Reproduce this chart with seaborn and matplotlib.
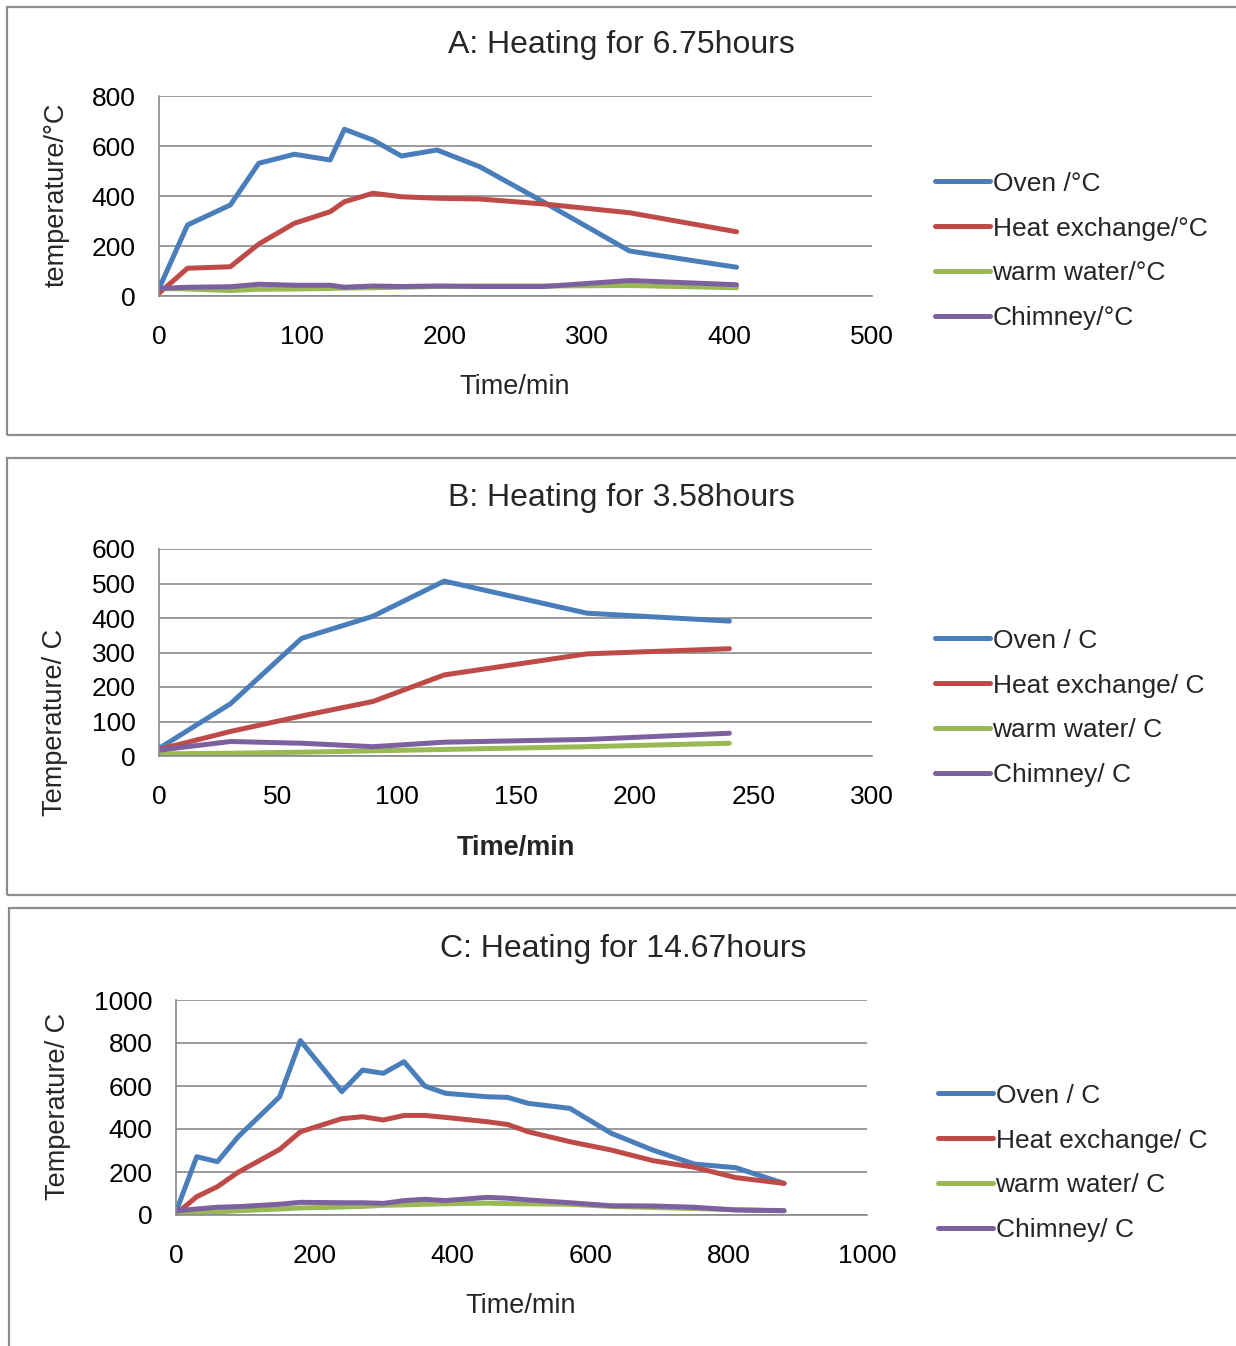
import numpy as np
import pandas as pd
import matplotlib
matplotlib.use("Agg")
import matplotlib.pyplot as plt
import seaborn as sns
from matplotlib.patches import Rectangle

# ── Data ───────────────────────────────────────────────────
series_a = ["Oven /°C", "Heat exchange/°C", "warm water/°C", "Chimney/°C"]
time_a = [0, 20, 50, 70, 95, 120, 130, 150, 170, 195, 225, 270, 330, 405]
oven_a = [30, 284, 364, 531, 567, 544, 667, 624, 560, 584, 517, 375, 180, 115]
heat_a = [11, 111, 117, 208, 291, 337, 377, 411, 397, 391, 388, 368, 333, 257]
water_a = [30, 28, 22, 27, 28, 30, 32, 33, 35, 38, 40, 40, 42, 33]
chimney_a = [30, 35, 37, 47, 43, 43, 35, 40, 38, 40, 38, 38, 62, 45]

series_b = ["Oven / C", "Heat exchange/ C", "warm water/ C", "Chimney/ C"]
time_b = [0, 30, 60, 90, 120, 180, 240]
oven_b = [22, 151, 341, 405, 507, 414, 391]
heat_b = [19, 71, 116, 158, 235, 296, 311]
water_b = [6, 8, 11, 15, 19, 27, 37]
chimney_b = [17, 42, 37, 27, 40, 48, 66]

series_c = ["Oven / C", "Heat exchange/ C", "warm water/ C", "Chimney/ C"]
time_c = [0, 30, 60, 90, 150, 180, 240, 270, 300, 330, 360, 390, 450, 480,
          510, 570, 630, 690, 750, 810, 880]
oven_c = [15, 271, 248, 364, 550, 811, 574, 674, 659, 713, 600, 566, 550, 547,
          519, 496, 380, 302, 237, 220, 147]
heat_c = [5, 85, 132, 199, 305, 387, 448, 457, 442, 463, 463, 454, 434, 421,
          387, 341, 302, 253, 222, 174, 147]
water_c = [5, 10, 15, 20, 28, 33, 37, 40, 45, 47, 50, 52, 55, 53,
           52, 50, 40, 35, 30, 25, 20]
chimney_c = [19, 28, 36, 39, 50, 59, 57, 57, 54, 67, 73, 67, 82, 78,
             70, 57, 43, 42, 36, 23, 20]

colors = ["#4a7ebb", "#be4b48", "#98b954", "#7d60a0"]

W, H = 1236, 1346


def long_frame(times, values, names):
    rows = []
    for name, vals in zip(names, values):
        for t, v in zip(times, vals):
            rows.append({"time": t, "temp": v, "series": name})
    return pd.DataFrame(rows)


def px_box(x0, y0, x1, y1):
    return [x0 / W, 1 - y1 / H, (x1 - x0) / W, (y1 - y0) / H]


sns.set_theme(style="white")
plt.rcParams["font.family"] = ["Liberation Sans", "DejaVu Sans"]

fig = plt.figure(figsize=(W / 100, H / 100), dpi=100)

panels = [
    dict(df=long_frame(time_a, [oven_a, heat_a, water_a, chimney_a], series_a),
         names=series_a, box=(159, 96, 872, 296), xlim=(0, 500), xstep=100,
         ylim=(0, 800), ystep=200, title="A: Heating for 6.75hours",
         title_xy=(621, 45), ylabel="temperature/°C", ylabel_xy=(57, 195),
         xlabel_xy=(515, 387), bold_x=False, legend_xy=(935, 251),
         frame=(7, 7, 1240, 435)),
    dict(df=long_frame(time_b, [oven_b, heat_b, water_b, chimney_b], series_b),
         names=series_b, box=(159, 549, 872, 756), xlim=(0, 300), xstep=50,
         ylim=(0, 600), ystep=100, title="B: Heating for 3.58hours",
         title_xy=(621, 498), ylabel="Temperature/ C", ylabel_xy=(55, 722),
         xlabel_xy=(516, 848), bold_x=True, legend_xy=(935, 708),
         frame=(7, 458, 1240, 895)),
    dict(df=long_frame(time_c, [oven_c, heat_c, water_c, chimney_c], series_c),
         names=series_c, box=(176, 1000, 867, 1215), xlim=(0, 1000), xstep=200,
         ylim=(0, 1000), ystep=200, title="C: Heating for 14.67hours",
         title_xy=(623, 949), ylabel="Temperature/ C", ylabel_xy=(58, 1106),
         xlabel_xy=(521, 1306), bold_x=False, legend_xy=(938, 1163),
         frame=(9, 908, 1240, 1350)),
]

for p in panels:
    # ── Panel frame ────────────────────────────────────────
    fx0, fy0, fx1, fy1 = p["frame"]
    fig.patches.append(Rectangle((fx0 / W, 1 - fy1 / H), (fx1 - fx0) / W,
                                 (fy1 - fy0) / H, transform=fig.transFigure,
                                 fill=False, edgecolor="#8c8c8c", linewidth=1.6))

    ax = fig.add_axes(px_box(*p["box"]))
    sns.lineplot(data=p["df"], x="time", y="temp", hue="series",
                 hue_order=p["names"], palette=colors, linewidth=3.6,
                 ax=ax, legend=False, sort=False)

    ax.set_xlim(*p["xlim"])
    ax.set_ylim(*p["ylim"])
    ax.set_xticks(np.arange(p["xlim"][0], p["xlim"][1] + 1, p["xstep"]))
    ax.set_yticks(np.arange(p["ylim"][0], p["ylim"][1] + 1, p["ystep"]))
    ax.tick_params(axis="both", length=0, labelsize=19, colors="black")
    ax.tick_params(axis="x", pad=21)
    ax.tick_params(axis="y", pad=17)
    ax.set_xlabel("")
    ax.set_ylabel("")
    ax.yaxis.grid(True, color="#8a8a8a", linewidth=1.2)
    ax.set_axisbelow(True)
    for side in ["top", "right"]:
        ax.spines[side].set_visible(False)
    for side in ["left", "bottom"]:
        ax.spines[side].set_color("#8a8a8a")
        ax.spines[side].set_linewidth(1.2)

    # ── Texts ──────────────────────────────────────────────
    tx, ty = p["title_xy"]
    fig.text(tx / W, 1 - ty / H, p["title"], ha="center", va="center", fontsize=23)
    lx, ly = p["ylabel_xy"]
    fig.text(lx / W, 1 - ly / H, p["ylabel"], ha="center", va="center",
             rotation=90, fontsize=19.5)
    xx, xy = p["xlabel_xy"]
    fig.text(xx / W, 1 - xy / H, "Time/min", ha="center", va="center",
             fontsize=19.5, fontweight="bold" if p["bold_x"] else "normal")

    # ── Legend ─────────────────────────────────────────────
    gx, gy = p["legend_xy"]
    ax.legend(ax.get_lines()[:4], p["names"], loc="center left",
              bbox_to_anchor=(gx / W, 1 - gy / H), bbox_transform=fig.transFigure,
              frameon=False, fontsize=19, handlelength=2.08, handletextpad=0.1,
              labelspacing=0.79, borderpad=0, borderaxespad=0)

fig.savefig("out.png", dpi=100)
